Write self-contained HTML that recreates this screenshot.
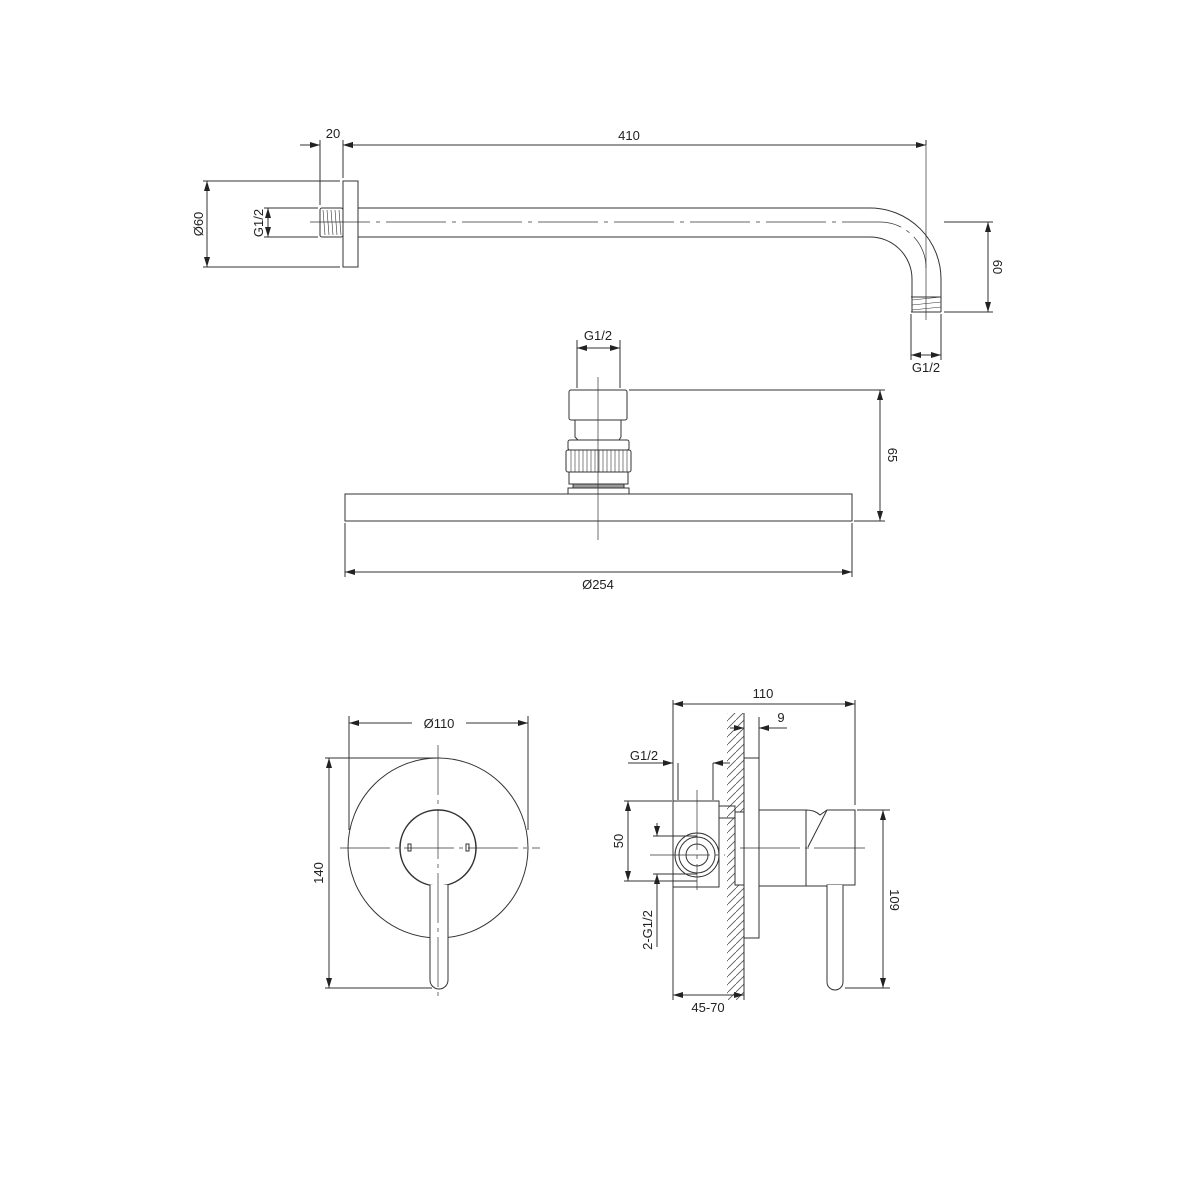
<!DOCTYPE html><html><head><style>body{margin:0;background:#fff}svg{display:block}text{font-family:"Liberation Sans",sans-serif;font-size:13px;fill:#222}</style></head><body>
<svg width="1200" height="1200" viewBox="0 0 1200 1200" xmlns="http://www.w3.org/2000/svg">
<defs>
<marker id="a" viewBox="0 0 10 6" refX="10" refY="3" markerWidth="10" markerHeight="6" orient="auto-start-reverse" markerUnits="userSpaceOnUse"><path d="M0,0L10,3L0,6z" fill="#222"/></marker>
<pattern id="h" width="8" height="8" patternUnits="userSpaceOnUse"><path d="M-2,10L10,-2" stroke="#555" stroke-width="0.8"/></pattern>
</defs>
<g fill="none" stroke="#333" stroke-width="1">
<!-- ARM -->
<rect x="343" y="181" width="15" height="86"/>
<rect x="320" y="208" width="23" height="29" rx="2"/>
<path d="M323,210l2,25M327,210l2,25M331,210l2,25M335,210l2,25M339,210l2,25" stroke-width="0.6"/>
<path d="M358,208H870A71,71 0 0 1 941,279V312M358,237H870A42,42 0 0 1 912,279V312"/>
<path d="M911,297H941M911,312H941" />
<path d="M912,300l29,-3M912,305l29,-3M912,310l29,-3" stroke-width="0.6"/>
<path d="M310,222H880A46,46 0 0 1 926,268" stroke-width="0.7" stroke-dasharray="60,6,4,6"/>
<path d="M926,145V320" stroke-width="0.7"/>
<path d="M320,140V205M343,140V178M926,140V145"/>
<path d="M300,145H320" marker-end="url(#a)"/><path d="M363,145H343" marker-end="url(#a)"/>
<path d="M343,145H926" marker-start="url(#a)" marker-end="url(#a)"/>
<path d="M203,181H340M203,267H340"/><path d="M207,181V267" marker-start="url(#a)" marker-end="url(#a)"/>
<path d="M264,208H318M264,237H318"/><path d="M268,208V237" marker-start="url(#a)" marker-end="url(#a)"/>
<path d="M944,222H993M944,312H993"/><path d="M988,222V312" marker-start="url(#a)" marker-end="url(#a)"/>
<path d="M911,314V360M941,314V360"/><path d="M911,355H941" marker-start="url(#a)" marker-end="url(#a)"/>
<!-- SHOWER HEAD -->
<rect x="345" y="494" width="507" height="27"/>
<rect x="569" y="390" width="58" height="30" rx="2"/>
<path d="M575,420V437L578,440H619L621,437V420"/>
<rect x="568" y="440" width="61" height="10" rx="2"/>
<rect x="566" y="450" width="65" height="22" rx="2"/>
<path d="M571,450v22M575,450v22M579,450v22M583,450v22M587,450v22M591,450v22M595,450v22M599,450v22M603,450v22M607,450v22M611,450v22M615,450v22M619,450v22M623,450v22M627,450v22" stroke-width="0.6"/>
<rect x="569" y="472" width="59" height="12"/>
<rect x="573" y="484" width="51" height="4" fill="#999"/>
<rect x="568" y="488" width="61" height="6"/>
<path d="M598,377V540" stroke-width="0.7"/>
<path d="M577,340V388M620,340V388"/><path d="M577,348H620" marker-start="url(#a)" marker-end="url(#a)"/>
<path d="M629,390H885M854,521H885"/><path d="M880,390V521" marker-start="url(#a)" marker-end="url(#a)"/>
<path d="M345,523V577M852,523V577"/><path d="M345,572H852" marker-start="url(#a)" marker-end="url(#a)"/>
<!-- MIXER FRONT -->
<circle cx="438" cy="848" r="90"/>
<circle cx="438" cy="848" r="38" stroke-width="1.5" fill="#fff"/>
<path d="M430,885V980A9,9 0 0 0 448,980V885" fill="#fff"/>
<rect x="408" y="844" width="3" height="7"/><rect x="466" y="844" width="3" height="7"/>
<path d="M340,848H540M438,745V1000" stroke-width="0.7" stroke-dasharray="50,5,4,5"/>
<path d="M349,716V830M528,716V830"/>
<path d="M412,723H349" marker-end="url(#a)"/><path d="M466,723H528" marker-end="url(#a)"/>
<path d="M325,758H440M325,988H432"/><path d="M329,758V988" marker-start="url(#a)" marker-end="url(#a)"/>
<!-- MIXER SIDE -->
<rect x="727" y="713" width="17" height="287" fill="url(#h)" stroke="none"/>
<path d="M744,713V1000"/>
<rect x="744" y="758" width="15" height="180" fill="#fff"/>
<rect x="735" y="812" width="9" height="73" fill="#fff"/>
<rect x="719" y="806" width="16" height="12"/>
<path d="M759,810H806Q815,810 820,815L827,810H855V885H827V886H806H759M806,810V886M827,810L808,847"/>
<path d="M827,885V982A8,8 0 0 0 843,982V885" fill="#fff"/>
<rect x="673" y="801" width="46" height="86" fill="#fff"/>
<circle cx="697" cy="855" r="22"/><circle cx="697" cy="855" r="18"/><circle cx="697" cy="855" r="11"/>
<path d="M650,855H725M697,790V890M740,848H865" stroke-width="0.7" stroke-dasharray="60,5,4,5"/>
<path d="M673,700V801M673,887V1000M855,700V805M759,717V758"/>
<path d="M673,704H855" marker-start="url(#a)" marker-end="url(#a)"/>
<path d="M730,728H744" marker-end="url(#a)"/><path d="M787,728H759" marker-end="url(#a)"/>
<path d="M628,763H673" marker-end="url(#a)"/><path d="M730,763H713" marker-end="url(#a)"/>
<path d="M678,763V800M713,763V800"/>
<path d="M624,801H672M624,881H697"/><path d="M628,801V881" marker-start="url(#a)" marker-end="url(#a)"/>
<path d="M653,836H697M653,874H697"/>
<path d="M657,823V836" marker-end="url(#a)"/><path d="M657,947V874" marker-end="url(#a)"/>
<path d="M673,995H744" marker-start="url(#a)" marker-end="url(#a)"/>
<path d="M857,810H890M845,988H890"/><path d="M883,810V988" marker-start="url(#a)" marker-end="url(#a)"/>
</g>
<text x="333" y="138" text-anchor="middle">20</text>
<text x="629" y="140" text-anchor="middle">410</text>
<text transform="translate(203,224) rotate(-90)" text-anchor="middle">Ø60</text>
<text transform="translate(263,223) rotate(-90)" text-anchor="middle">G1/2</text>
<text transform="translate(993,267) rotate(90)" text-anchor="middle">60</text>
<text x="926" y="372" text-anchor="middle">G1/2</text>
<text x="598" y="340" text-anchor="middle">G1/2</text>
<text transform="translate(888,455) rotate(90)" text-anchor="middle">65</text>
<text x="598" y="589" text-anchor="middle">Ø254</text>
<text x="439" y="728" text-anchor="middle">Ø110</text>
<text transform="translate(323,873) rotate(-90)" text-anchor="middle">140</text>
<text x="763" y="698" text-anchor="middle">110</text>
<text x="781" y="722" text-anchor="middle">9</text>
<text x="644" y="760" text-anchor="middle">G1/2</text>
<text transform="translate(623,841) rotate(-90)" text-anchor="middle">50</text>
<text transform="translate(652,930) rotate(-90)" text-anchor="middle">2-G1/2</text>
<text x="708" y="1012" text-anchor="middle">45-70</text>
<text transform="translate(890,900) rotate(90)" text-anchor="middle">109</text>
</svg></body></html>
